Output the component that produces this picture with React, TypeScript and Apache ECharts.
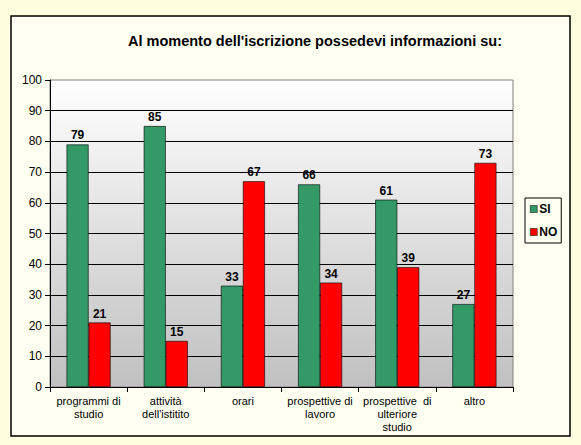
import React, { useEffect, useRef } from 'react';
import * as echarts from 'echarts';

const categories = [
  'programmi di\nstudio',
  'attività\ndell\'istitito',
  'orari',
  'prospettive di\nlavoro',
  'prospettive  di\nulteriore\nstudio',
  'altro',
];
const siValues = [79, 85, 33, 66, 61, 27];
const noValues = [21, 15, 67, 34, 39, 73];

const FONT = 'Arial, "Liberation Sans", sans-serif';

const App: React.FC = () => {
  const chartRef = useRef<HTMLDivElement | null>(null);

  useEffect(() => {
    if (!chartRef.current) return;
    const chart = echarts.init(chartRef.current, undefined, { renderer: 'svg' });

    const barLabel = {
      show: true,
      position: 'top',
      distance: 3,
      color: '#000',
      fontWeight: 'bold',
      fontSize: 12,
      fontFamily: FONT,
    };

    const option = {
      animation: false,
      backgroundColor: '#FFFFE0',
      title: {
        text: "Al momento dell'iscrizione possedevi informazioni su:",
        left: 310,
        textAlign: 'center',
        top: 28,
        textStyle: { fontSize: 14.5, fontWeight: 'bold', color: '#000', fontFamily: FONT },
      },
      graphic: [
        {
          type: 'rect',
          z: -10,
          silent: true,
          shape: { x: 11, y: 16, width: 559, height: 420 },
          style: { fill: '#FFFFF2', stroke: '#000', lineWidth: 1.5 },
        },
      ],
      legend: {
        orient: 'vertical',
        left: 525,
        top: 198,
        padding: [4, 4, 4, 5],
        itemGap: 9,
        itemWidth: 7,
        itemHeight: 7,
        icon: 'rect',
        borderColor: '#000',
        borderWidth: 1,
        textStyle: { fontSize: 12, fontWeight: 'bold', color: '#000', fontFamily: FONT, lineHeight: 14, padding: [0, 0, 0, -3] },
        itemStyle: { borderColor: '#000', borderWidth: 0.5 },
        data: ['SI', 'NO'],
      },
      grid: {
        left: 50,
        right: 68,
        top: 80,
        bottom: 58,
        show: true,
        borderColor: '#808080',
        borderWidth: 1,
        backgroundColor: new echarts.graphic.LinearGradient(0, 0, 0, 1, [
          { offset: 0, color: '#FFFFFF' },
          { offset: 1, color: '#C0C0C0' },
        ]),
      },
      xAxis: {
        type: 'category',
        data: categories,
        axisLine: { lineStyle: { color: '#000', width: 1 } },
        axisTick: { show: true, length: 5, lineStyle: { color: '#000' } },
        axisLabel: {
          color: '#000',
          fontSize: 11,
          fontFamily: FONT,
          lineHeight: 13,
          margin: 7,
          interval: 0,
        },
      },
      yAxis: {
        type: 'value',
        min: 0,
        max: 100,
        interval: 10,
        axisLine: { show: true, lineStyle: { color: '#000', width: 1 } },
        axisTick: { show: true, length: 5, lineStyle: { color: '#000' } },
        axisLabel: { color: '#000', fontSize: 12, fontFamily: FONT, margin: 8 },
        splitLine: { show: true, showMaxLine: false, lineStyle: { color: '#000', width: 1 } },
      },
      series: [
        {
          name: 'SI',
          type: 'bar',
          data: siValues,
          barWidth: 22,
          barGap: '0%',
          itemStyle: { color: '#339966', borderColor: '#000', borderWidth: 0.6 },
          label: barLabel,
        },
        {
          name: 'NO',
          type: 'bar',
          data: noValues,
          barWidth: 22,
          barGap: '0%',
          itemStyle: { color: '#FF0000', borderColor: '#000', borderWidth: 0.6 },
          label: barLabel,
        },
      ],
    };

    chart.setOption(option as any);
    return () => {
      chart.dispose();
    };
  }, []);

  return (
    <div
      ref={chartRef}
      style={{ position: 'fixed', left: 0, top: 0, width: 581, height: 445 }}
    />
  );
};

export default App;
